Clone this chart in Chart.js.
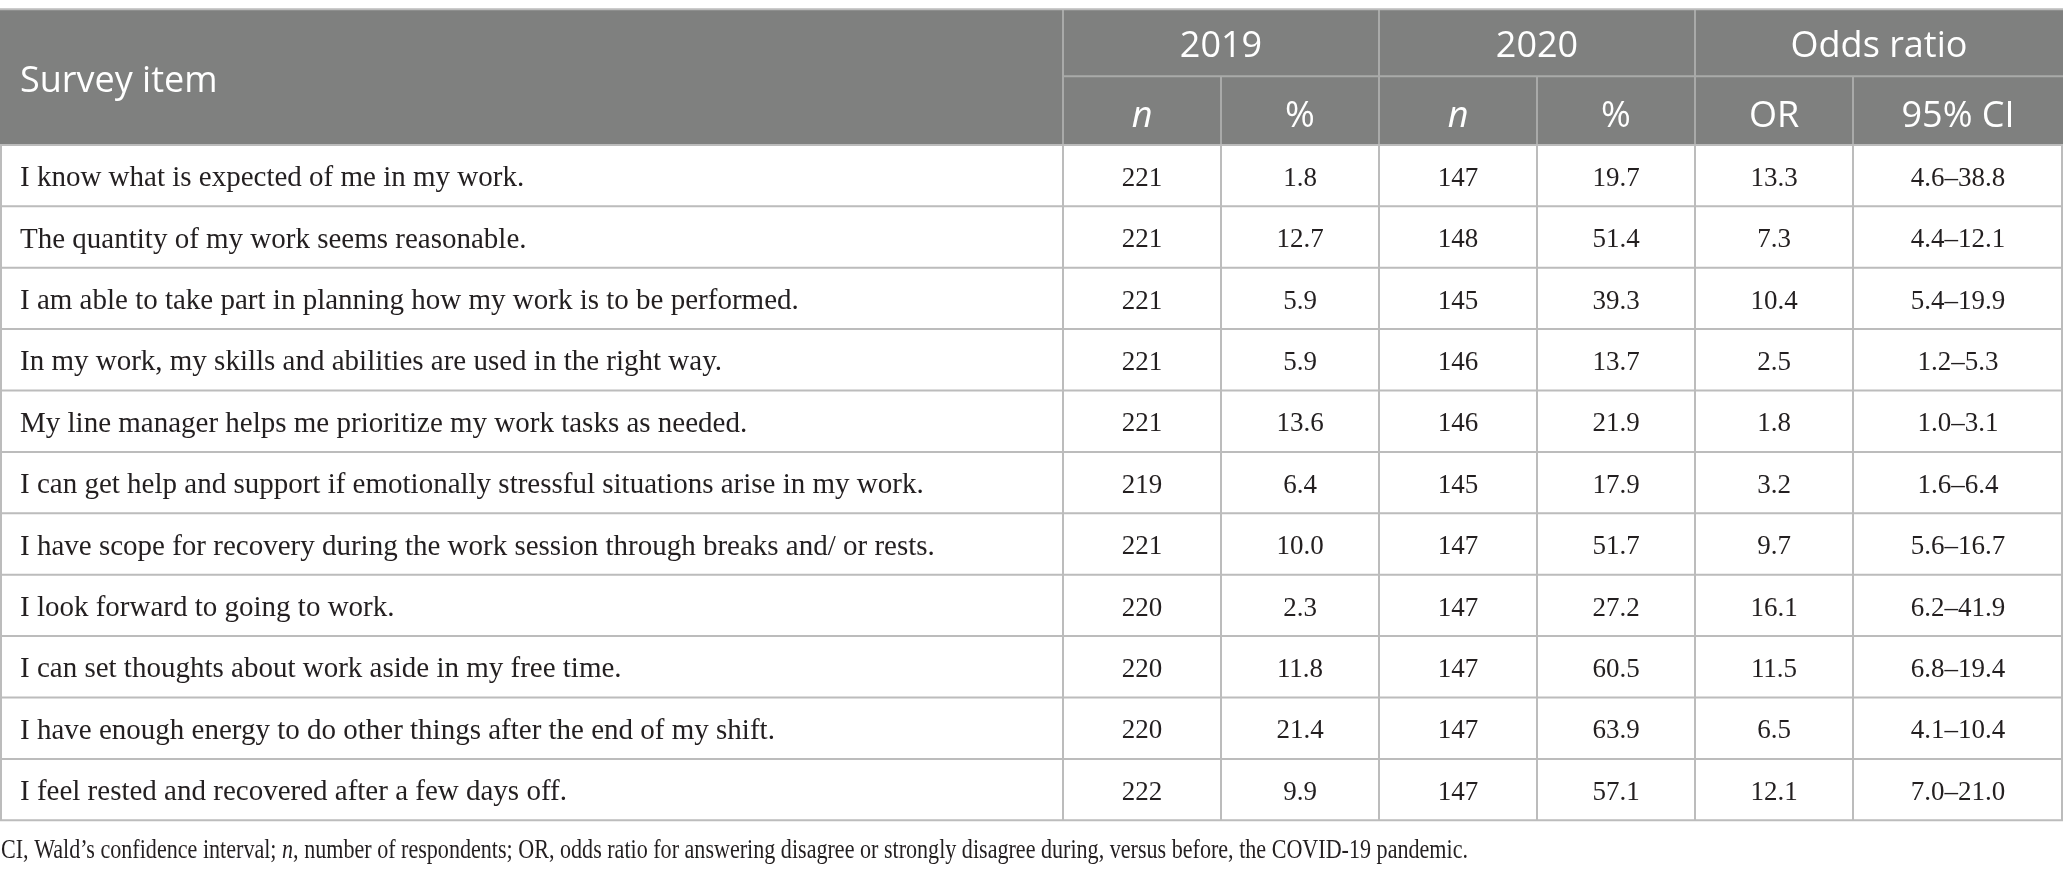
<!DOCTYPE html>
<html>
<head>
  <meta charset="utf-8">
  <script src="https://cdn.jsdelivr.net/npm/chart.js"></script>
  <style>
    html, body { margin: 0; padding: 0; background: #fff; }
    #wrap { width: 2063px; height: 877px; position: relative; }
  </style>
</head>
<body>
  <div id="wrap"><canvas id="myChart"></canvas></div>

  <script>
    // table data
    var items = [
      'I know what is expected of me in my work.',
      'The quantity of my work seems reasonable.',
      'I am able to take part in planning how my work is to be performed.',
      'In my work, my skills and abilities are used in the right way.',
      'My line manager helps me prioritize my work tasks as needed.',
      'I can get help and support if emotionally stressful situations arise in my work.',
      'I have scope for recovery during the work session through breaks and/ or rests.',
      'I look forward to going to work.',
      'I can set thoughts about work aside in my free time.',
      'I have enough energy to do other things after the end of my shift.',
      'I feel rested and recovered after a few days off.'
    ];
    var n2019 = [221, 221, 221, 221, 221, 219, 221, 220, 220, 220, 222];
    var pct2019 = [1.8, 12.7, 5.9, 5.9, 13.6, 6.4, 10.0, 2.3, 11.8, 21.4, 9.9];
    var n2020 = [147, 148, 145, 146, 146, 145, 147, 147, 147, 147, 147];
    var pct2020 = [19.7, 51.4, 39.3, 13.7, 21.9, 17.9, 51.7, 27.2, 60.5, 63.9, 57.1];
    var oddsRatio = [13.3, 7.3, 10.4, 2.5, 1.8, 3.2, 9.7, 16.1, 11.5, 6.5, 12.1];
    var ciLow = [4.6, 4.4, 5.4, 1.2, 1.0, 1.6, 5.6, 6.2, 6.8, 4.1, 7.0];
    var ciHigh = [38.8, 12.1, 19.9, 5.3, 3.1, 6.4, 16.7, 41.9, 19.4, 10.4, 21.0];

    var groupHeaders = ['2019', '2020', 'Odds ratio'];
    var subHeaders = ['n', '%', 'n', '%', 'OR', '95% CI'];
    var firstHeader = 'Survey item';
    var footnoteParts = [
      { t: 'CI, Wald\u2019s confidence interval; ', i: false },
      { t: 'n', i: true },
      { t: ', number of respondents; OR, odds ratio for answering disagree or strongly disagree during, versus before, the COVID-19 pandemic.', i: false }
    ];

    // layout (x in column units, y in body-row units)
    var colWidths = [1063, 158, 158, 158, 158, 158, 210];
    var colEdges = [0];
    colWidths.forEach(function (w, i) { colEdges.push(colEdges[i] + w); });
    var xMax = colEdges[colEdges.length - 1];
    var tableTop = 0.15, headerMid = 1.24, headerBottom = 2.36;
    var tableBottom = headerBottom + items.length;
    var footY = 13.85, yMax = 14.283;
    var textInset = 20;
    var footWidth = 1467;

    var serif = '"Liberation Serif", "Times New Roman", serif';
    var sans = '"Open Sans", "Noto Sans", sans-serif';
    var headerFill = '#7f807f';
    var lineColor = '#bcbcbc';
    var headerLine = '#a9aaa9';
    var textColor = '#231f20';

    function fmt(v) { return v.toFixed(1); }
    var columns = [
      items,
      n2019.map(String),
      pct2019.map(fmt),
      n2020.map(String),
      pct2020.map(fmt),
      oddsRatio.map(fmt),
      ciLow.map(function (v, i) { return fmt(v) + '\u2013' + fmt(ciHigh[i]); })
    ];

    var datasets = columns.map(function (col, c) {
      var cx = c === 0 ? colEdges[0] + textInset : (colEdges[c] + colEdges[c + 1]) / 2;
      return {
        label: 'col' + c,
        cellText: col,
        align: c === 0 ? 'left' : 'center',
        data: col.map(function (_, r) { return { x: cx, y: headerBottom + r + 0.5 }; }),
        pointRadius: 0,
        pointHoverRadius: 0
      };
    });

    var tablePlugin = {
      id: 'tableDraw',
      beforeDatasetsDraw: function (chart) {
        var ctx = chart.ctx, xs = chart.scales.x, ys = chart.scales.y;
        var X = function (v) { return xs.getPixelForValue(v); };
        var Y = function (v) { return ys.getPixelForValue(v); };
        ctx.save();
        // header background
        ctx.fillStyle = headerFill;
        ctx.fillRect(X(0), Y(tableTop), X(xMax) - X(0), Y(headerBottom) - Y(tableTop));

        ctx.lineWidth = 2;
        // header inner lines
        ctx.strokeStyle = headerLine;
        ctx.beginPath();
        ctx.moveTo(X(colEdges[1]), Y(headerMid));
        ctx.lineTo(X(xMax), Y(headerMid));
        for (var c = 1; c < colEdges.length - 1; c++) {
          var top = (c % 2 === 1) ? tableTop : headerMid;
          ctx.moveTo(X(colEdges[c]), Y(top));
          ctx.lineTo(X(colEdges[c]), Y(headerBottom));
        }
        ctx.stroke();

        // body grid
        ctx.strokeStyle = lineColor;
        ctx.beginPath();
        ctx.moveTo(X(0), Y(tableTop));
        ctx.lineTo(X(xMax), Y(tableTop));
        for (var r = 0; r <= items.length; r++) {
          ctx.moveTo(X(0), Y(headerBottom + r));
          ctx.lineTo(X(xMax), Y(headerBottom + r));
        }
        for (var k = 0; k < colEdges.length; k++) {
          var ex = Math.min(Math.max(X(colEdges[k]), 1), X(xMax) - 1);
          ctx.moveTo(ex, Y(headerBottom));
          ctx.lineTo(ex, Y(tableBottom));
        }
        ctx.stroke();

        // header text
        ctx.fillStyle = '#ffffff';
        ctx.textBaseline = 'middle';
        ctx.font = '400 36px ' + sans;
        ctx.textAlign = 'left';
        ctx.fillText(firstHeader, X(textInset), Y((tableTop + headerBottom) / 2) + 5);
        ctx.textAlign = 'center';
        groupHeaders.forEach(function (h, g) {
          var x0 = colEdges[1 + g * 2], x1 = colEdges[3 + g * 2];
          ctx.fillText(h, X((x0 + x1) / 2), Y((tableTop + headerMid) / 2) + 4);
        });
        subHeaders.forEach(function (h, s) {
          ctx.font = (h === 'n' ? 'italic ' : '') + '400 36px ' + sans;
          ctx.fillText(h, X((colEdges[s + 1] + colEdges[s + 2]) / 2), Y((headerMid + headerBottom) / 2) + 6);
        });

        // footnote, squeezed to the reference's narrow face
        ctx.fillStyle = textColor;
        ctx.textAlign = 'left';
        var widths = footnoteParts.map(function (p) {
          ctx.font = (p.i ? 'italic ' : '') + '28px ' + serif;
          return ctx.measureText(p.t).width;
        });
        var total = widths.reduce(function (a, b) { return a + b; }, 0);
        var sx = footWidth / total;
        ctx.translate(X(0) + 1, Y(footY));
        ctx.scale(sx, 1);
        var fx = 0;
        footnoteParts.forEach(function (p, i) {
          ctx.font = (p.i ? 'italic ' : '') + '28px ' + serif;
          ctx.fillText(p.t, fx, 0);
          fx += widths[i];
        });
        ctx.restore();
      },
      afterDatasetsDraw: function (chart) {
        var ctx = chart.ctx;
        ctx.save();
        ctx.fillStyle = textColor;
        ctx.textBaseline = 'middle';
        chart.data.datasets.forEach(function (ds, i) {
          var meta = chart.getDatasetMeta(i);
          ctx.textAlign = ds.align;
          ctx.font = (i === 0 ? '29px ' : '27px ') + serif;
          meta.data.forEach(function (pt, r) {
            ctx.fillText(ds.cellText[r], pt.x, pt.y + 3);
          });
        });
        ctx.restore();
      }
    };

    var ctx = document.getElementById('myChart').getContext('2d');
    var myChart = new Chart(ctx, {
      type: 'scatter',
      data: { datasets: datasets },
      options: {
        responsive: true,
        maintainAspectRatio: false,
        animation: false,
        layout: { padding: 0 },
        plugins: { legend: { display: false }, tooltip: { enabled: false } },
        events: [],
        scales: {
          x: { type: 'linear', min: 0, max: xMax, display: false },
          y: { type: 'linear', min: 0, max: yMax, reverse: true, display: false }
        }
      },
      plugins: [tablePlugin]
    });
  </script>
</body>
</html>
